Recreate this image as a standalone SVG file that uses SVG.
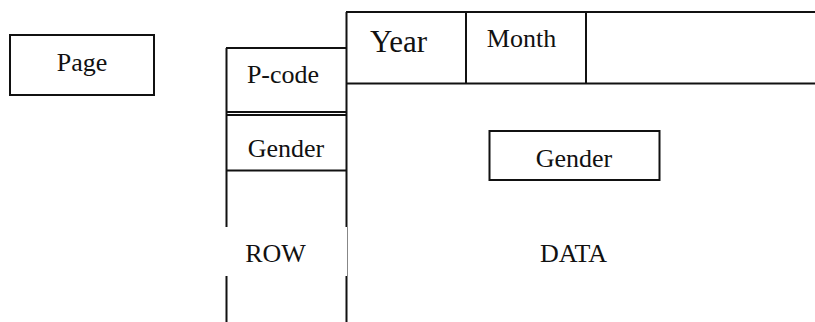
<svg xmlns="http://www.w3.org/2000/svg" width="815" height="322" viewBox="0 0 815 322">
<style>
.ln{stroke:#111;stroke-width:2;fill:none}
.bx{stroke:#111;stroke-width:2;fill:#fff}
text{font-family:'Liberation Serif','Times New Roman',serif;font-size:26px;fill:#111;text-anchor:middle}
.big{font-size:31px}
</style>
<rect width="815" height="322" fill="#fff"/>
<g id="page">
<rect class="bx" x="10" y="35" width="144" height="60"/>
<text x="82" y="71">Page</text>
</g>
<g id="connectors">
<path class="ln" d="M346.5 12 V322 M346 12 H815 M346 83.5 H815 M466 12 V83.5 M586 12 V83.5"/>
<path class="ln" d="M226.5 48 V322 M226 48 H346 M226 112 H346 M226 115 H346 M226 170.5 H346"/>
</g>
<g id="year"><text class="big" x="398.5" y="52">Year</text></g>
<g id="month"><text x="521.5" y="47">Month</text></g>
<g id="pcode"><text x="283" y="83">P-code</text></g>
<g id="gender-row"><text x="286" y="157">Gender</text></g>
<g id="row">
<rect x="225" y="227" width="122" height="49" fill="#fff"/>
<text x="275.5" y="262">ROW</text>
</g>
<g id="gender-data">
<rect class="bx" x="489.5" y="131" width="170" height="49"/>
<text x="574" y="167">Gender</text>
</g>
<g id="data"><text x="573.5" y="262">DATA</text></g>
</svg>
